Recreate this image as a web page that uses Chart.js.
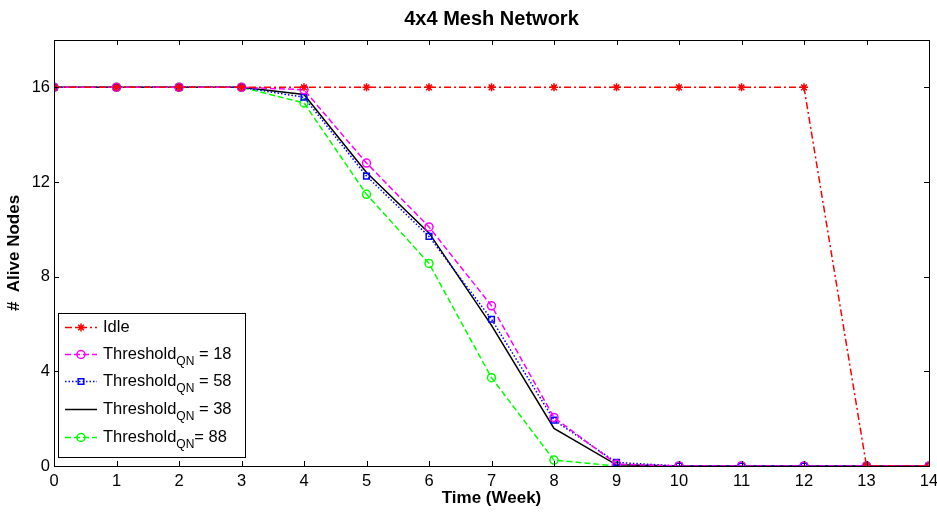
<!DOCTYPE html>
<html>
<head>
<meta charset="utf-8">
<style>
    html, body { margin: 0; padding: 0; background: #fff; }
    #wrap { width: 937px; height: 513px; }
</style>
</head>
<body>
<div id="wrap"><canvas id="mesh-chart" width="937" height="513"></canvas></div>
<script src="https://cdn.jsdelivr.net/npm/chart.js"></script>
<script type="text/javascript">
    // weeks on the x axis
    const weeks = [0, 1, 2, 3, 4, 5, 6, 7, 8, 9, 10, 11, 12, 13, 14];
    const yTicks = [0, 4, 8, 12, 16];

    // alive nodes per week
    const idle   = [16, 16, 16, 16, 16, 16, 16, 16, 16, 16, 16, 16, 16, 0, 0];
    const thr18  = [16, 16, 16, 16, 15.9, 12.8, 10.1, 6.77, 2.05, 0.08, 0, 0, 0, 0, 0];
    const thr58  = [16, 16, 16, 16, 15.58, 12.25, 9.7, 6.2, 1.94, 0.15, 0, 0, 0, 0, 0];
    const thr38  = [16, 16, 16, 16, 15.7, 12.4, 9.85, 5.94, 1.59, 0.05, 0, 0, 0, 0, 0];
    const thr88  = [16, 16, 16, 16, 15.34, 11.48, 8.56, 3.73, 0.25, 0, 0, 0, 0, 0, 0];

    const legendItems = [
        { main: 'Idle', sub: '', tail: '' },
        { main: 'Threshold', sub: 'QN', tail: ' = 18' },
        { main: 'Threshold', sub: 'QN', tail: ' = 58' },
        { main: 'Threshold', sub: 'QN', tail: ' = 38' },
        { main: 'Threshold', sub: 'QN', tail: '= 88' }
    ];

    const FONT = '"Liberation Sans", Arial, sans-serif';

    function toPoints(values) {
        return weeks.map((w, i) => ({ x: w, y: values[i] }));
    }

    function series(label, values, color, dash, style, radius) {
        return {
            label: label,
            data: toPoints(values),
            borderColor: color,
            backgroundColor: 'rgba(0,0,0,0)',
            borderWidth: 1.5,
            borderDash: dash,
            pointStyle: style,
            pointRadius: radius,
            pointBorderColor: color,
            pointBackgroundColor: style === 'star' ? color : 'rgba(0,0,0,0)',
            pointBorderWidth: 1.5,
            tension: 0
        };
    }

    // frame, inner ticks, title and legend in the MATLAB look
    const matlabFrame = {
        id: 'matlabFrame',
        afterDraw(chart) {
            const ctx = chart.ctx;
            const a = chart.chartArea;
            const xs = chart.scales.x;
            const ys = chart.scales.y;
            ctx.save();
            ctx.strokeStyle = '#000';
            ctx.lineWidth = 1;
            ctx.setLineDash([]);
            ctx.strokeRect(Math.round(a.left) + 0.5, Math.round(a.top) + 0.5,
                Math.round(a.right - a.left), Math.round(a.bottom - a.top));
            const len = 5;
            ctx.beginPath();
            weeks.forEach(w => {
                const px = Math.round(xs.getPixelForValue(w)) + 0.5;
                ctx.moveTo(px, a.bottom); ctx.lineTo(px, a.bottom - len);
                ctx.moveTo(px, a.top); ctx.lineTo(px, a.top + len);
            });
            yTicks.forEach(v => {
                const py = Math.round(ys.getPixelForValue(v)) + 0.5;
                ctx.moveTo(a.left, py); ctx.lineTo(a.left + len, py);
                ctx.moveTo(a.right, py); ctx.lineTo(a.right - len, py);
            });
            ctx.stroke();

            // title
            ctx.fillStyle = '#000';
            ctx.font = 'bold 20px ' + FONT;
            ctx.textAlign = 'center';
            ctx.textBaseline = 'middle';
            ctx.fillText('4x4 Mesh Network', (a.left + a.right) / 2, 19);

            // legend
            const bx = 58, by = 313, bw = 187, bh = 144;
            ctx.fillStyle = '#fff';
            ctx.fillRect(bx, by, bw, bh);
            ctx.strokeStyle = '#000';
            ctx.strokeRect(bx + 0.5, by + 0.5, bw, bh);
            const rows = [327, 354, 381, 409, 437];
            chart.data.datasets.forEach((ds, i) => {
                const y = rows[i];
                ctx.save();
                ctx.strokeStyle = ds.borderColor;
                ctx.lineWidth = ds.borderWidth;
                ctx.setLineDash(ds.borderDash || []);
                ctx.beginPath();
                ctx.moveTo(65, y + 0.5);
                ctx.lineTo(97, y + 0.5);
                ctx.stroke();
                ctx.setLineDash([]);
                if (ds.pointRadius > 0) {
                    ctx.fillStyle = ds.pointBackgroundColor;
                    ctx.strokeStyle = ds.pointBorderColor;
                    ctx.lineWidth = ds.pointBorderWidth;
                    Chart.helpers.drawPoint(ctx, {
                        pointStyle: ds.pointStyle,
                        radius: ds.pointRadius,
                        borderWidth: ds.pointBorderWidth,
                        rotation: 0
                    }, 81, y + 0.5);
                }
                ctx.restore();

                const item = legendItems[i];
                ctx.fillStyle = '#000';
                ctx.textAlign = 'left';
                ctx.textBaseline = 'middle';
                ctx.font = '16.5px ' + FONT;
                let tx = 103;
                ctx.fillText(item.main, tx, y);
                tx += ctx.measureText(item.main).width;
                if (item.sub) {
                    ctx.font = '12px ' + FONT;
                    ctx.fillText(item.sub, tx, y + 8);
                    tx += ctx.measureText(item.sub).width;
                    ctx.font = '16.5px ' + FONT;
                    ctx.fillText(item.tail, tx, y);
                }
            });
            ctx.restore();
        }
    };

    const meshChart = new Chart(document.getElementById('mesh-chart'), {
        type: 'line',
        data: {
            datasets: [
                series('Idle', idle, '#ff0000', [7, 3, 2, 3], 'star', 4),
                series('Threshold QN = 18', thr18, '#ff00ff', [6, 3], 'circle', 4),
                series('Threshold QN = 58', thr58, '#0000ff', [1.5, 2], 'rect', 4),
                series('Threshold QN = 38', thr38, '#000000', [], 'circle', 0),
                series('Threshold QN = 88', thr88, '#00ff00', [6, 3], 'circle', 4)
            ]
        },
        options: {
            responsive: false,
            animation: false,
            layout: { padding: { top: 40, right: 8, left: 0, bottom: 0 } },
            plugins: {
                legend: { display: false },
                title: { display: false },
                tooltip: { enabled: false }
            },
            scales: {
                x: {
                    type: 'linear',
                    min: 0,
                    max: 14,
                    afterBuildTicks: s => { s.ticks = weeks.map(v => ({ value: v })); },
                    afterFit: s => { s.height = 47; s.paddingRight = 0; s.paddingLeft = 0; },
                    grid: { display: false, drawTicks: false },
                    border: { display: false },
                    ticks: { color: '#000', padding: 6, maxRotation: 0, font: { family: FONT, size: 16.5 } },
                    title: {
                        display: true,
                        text: 'Time (Week)',
                        color: '#000',
                        padding: { top: 0, bottom: 4 },
                        font: { family: FONT, size: 17, weight: 'bold' }
                    }
                },
                y: {
                    min: 0,
                    max: 18,
                    afterBuildTicks: s => { s.ticks = yTicks.map(v => ({ value: v })); },
                    afterFit: s => { s.width = 54; s.paddingTop = 0; s.paddingBottom = 0; },
                    grid: { display: false, drawTicks: false },
                    border: { display: false },
                    ticks: { color: '#000', padding: 4, font: { family: FONT, size: 16.5 } },
                    title: {
                        display: true,
                        text: '#  Alive Nodes',
                        color: '#000',
                        padding: { top: 4, bottom: 0 },
                        font: { family: FONT, size: 17, weight: 'bold' }
                    }
                }
            }
        },
        plugins: [matlabFrame]
    });
</script>
</body>
</html>
